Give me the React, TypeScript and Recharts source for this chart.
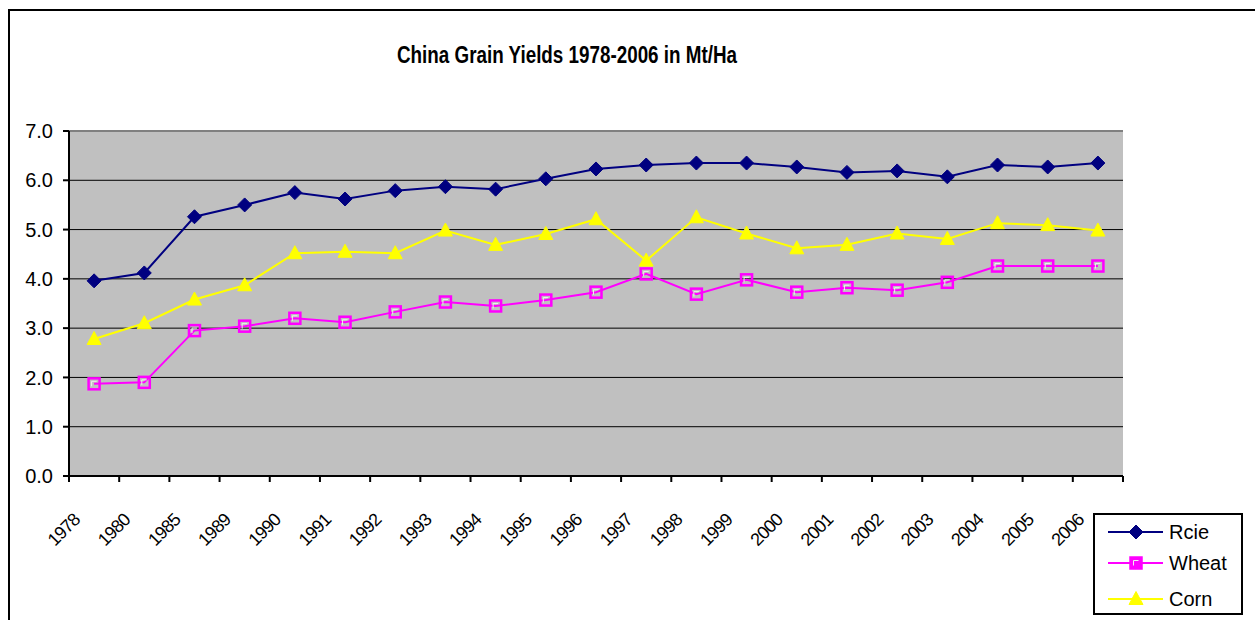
import React from "react";
import { LineChart, Line, XAxis, YAxis, CartesianGrid, ReferenceLine } from "recharts";

const FONT = "'Liberation Sans', Arial, sans-serif";

const YEARS = [
  "1978", "1980", "1985", "1989", "1990", "1991", "1992", "1993", "1994", "1995", "1996",
  "1997", "1998", "1999", "2000", "2001", "2002", "2003", "2004", "2005", "2006",
];
const RICE = [3.96, 4.12, 5.26, 5.5, 5.75, 5.62, 5.79, 5.87, 5.82, 6.03, 6.23, 6.31, 6.35, 6.35, 6.27, 6.16, 6.19, 6.07, 6.31, 6.27, 6.35];
const WHEAT = [1.87, 1.9, 2.95, 3.04, 3.2, 3.12, 3.33, 3.53, 3.45, 3.57, 3.73, 4.1, 3.69, 3.98, 3.73, 3.82, 3.77, 3.93, 4.26, 4.26, 4.26];
const CORN = [2.78, 3.1, 3.58, 3.87, 4.52, 4.55, 4.52, 4.98, 4.69, 4.91, 5.21, 4.37, 5.25, 4.92, 4.62, 4.69, 4.92, 4.81, 5.13, 5.09, 4.98];
const Y_TICKS = [0, 1, 2, 3, 4, 5, 6, 7];

const SERIES = [
  { key: "rice", name: "Rcie", color: "#000080", marker: "diamond" },
  { key: "wheat", name: "Wheat", color: "#FF00FF", marker: "square" },
  { key: "corn", name: "Corn", color: "#FFFF00", marker: "triangle" },
];

const data = YEARS.map((year, i) => ({ year, rice: RICE[i], wheat: WHEAT[i], corn: CORN[i] }));

const W = 1255;
const H = 620;
const MARGIN = { top: 131, right: 132, bottom: 0, left: 0 };
const Y_AXIS_W = 69;
const PLOT_W = W - MARGIN.right - Y_AXIS_W;
const HALF_BAND = PLOT_W / YEARS.length / 2;

function Marker({ type, cx, cy, color, legend }: { type: string; cx: number; cy: number; color: string; legend?: boolean }) {
  if (type === "diamond") {
    const r = 7;
    return <polygon points={`${cx},${cy - r} ${cx + r},${cy} ${cx},${cy + r} ${cx - r},${cy}`} fill={color} stroke={color} strokeWidth={1} />;
  }
  if (type === "square") {
    const s = 5.5;
    return (
      <g>
        <rect x={cx - s} y={cy - s} width={s * 2} height={s * 2} fill={legend ? color : "none"} stroke={color} strokeWidth={2.5} />
        <polyline points={`${cx - 2.5},${cy + 2.5} ${cx - 2.5},${cy - 2.5} ${cx + 2.5},${cy - 2.5}`} fill="none" stroke="#f0f0f0" strokeWidth={1} />
      </g>
    );
  }
  return <polygon points={`${cx},${cy - 7.5} ${cx + 7},${cy + 5.5} ${cx - 7},${cy + 5.5}`} fill={color} stroke={color} strokeWidth={1} />;
}

function makeDot(type: string, color: string) {
  return (p: any) => {
    if (p.cx == null || p.cy == null) return <g key={p.index} />;
    return (
      <g key={`${type}-${p.index}`}>
        <Marker type={type} cx={p.cx} cy={p.cy} color={color} />
      </g>
    );
  };
}

// category labels sit under band centres, tick marks on band edges
function YearTick(props: any) {
  const { x, y, payload, index } = props;
  const tx = x - 13;
  const ty = y + 45;
  return (
    <g>
      <line x1={x - HALF_BAND} x2={x - HALF_BAND} y1={y} y2={y + 6} stroke="#000" strokeWidth={2} />
      {index === YEARS.length - 1 && (
        <line x1={x + HALF_BAND} x2={x + HALF_BAND} y1={y} y2={y + 6} stroke="#000" strokeWidth={2} />
      )}
      <text
        x={tx}
        y={ty}
        transform={`rotate(-45 ${tx} ${ty})`}
        textAnchor="end"
        fontSize={18}
        letterSpacing={-0.8}
        fontFamily={FONT}
        fill="#000"
      >
        {payload.value}
      </text>
    </g>
  );
}

function LegendBox() {
  const rows = [17, 48, 84];
  return (
    <div
      style={{
        position: "absolute",
        left: 1093,
        top: 513,
        width: 146,
        height: 98,
        border: "2px solid #000",
        background: "#fff",
      }}
    >
      <svg width={146} height={98}>
        {SERIES.map((s, i) => (
          <g key={s.key}>
            <line x1={13} x2={68} y1={rows[i]} y2={rows[i]} stroke={s.color} strokeWidth={2} />
            <Marker type={s.marker} cx={41} cy={rows[i]} color={s.color} legend />
            <text x={74} y={rows[i]} dy="0.35em" fontSize={20} fontFamily={FONT} fill="#000">
              {s.name}
            </text>
          </g>
        ))}
      </svg>
    </div>
  );
}

export default function App() {
  return (
    <div style={{ position: "relative", width: W, height: H, overflow: "hidden", background: "#fff" }}>
      <style>{"body{margin:0}"}</style>
      <LineChart width={W} height={H} data={data} margin={MARGIN}>
        <CartesianGrid vertical={false} stroke="#000" strokeWidth={1} fill="#C0C0C0" fillOpacity={1} />
        <XAxis
          dataKey="year"
          scale="band"
          height={144}
          interval={0}
          axisLine={{ stroke: "#000", strokeWidth: 2 }}
          tickLine={false}
          tickSize={0}
          tickMargin={0}
          tick={(p: any) => <YearTick {...p} />}
        />
        <YAxis
          domain={[0, 7]}
          ticks={Y_TICKS}
          interval={0}
          width={Y_AXIS_W}
          tickFormatter={(v: number) => v.toFixed(1)}
          axisLine={{ stroke: "#000", strokeWidth: 2 }}
          tickLine={{ stroke: "#000", strokeWidth: 2 }}
          tickSize={6}
          tickMargin={10}
          tick={{ fill: "#000", fontSize: 20, fontFamily: FONT }}
        />
        <YAxis
          yAxisId="edge"
          orientation="right"
          domain={[0, 7]}
          width={0}
          tick={false}
          tickLine={false}
          axisLine={{ stroke: "#808080", strokeWidth: 2 }}
        />
        <ReferenceLine y={7} stroke="#808080" strokeWidth={2} />
        {SERIES.map((s) => (
          <Line
            key={s.key}
            type="linear"
            dataKey={s.key}
            name={s.name}
            stroke={s.color}
            strokeWidth={2}
            dot={makeDot(s.marker, s.color)}
            activeDot={false}
            isAnimationActive={false}
          />
        ))}
      </LineChart>
      <svg width={W} height={H} style={{ position: "absolute", left: 0, top: 0, pointerEvents: "none" }}>
        <text
          x={567}
          y={63}
          textAnchor="middle"
          fontSize={23}
          fontWeight="bold"
          fontFamily={FONT}
          textLength={340}
          lengthAdjust="spacingAndGlyphs"
          fill="#000"
        >
          China Grain Yields 1978-2006 in Mt/Ha
        </text>
      </svg>
      <div
        style={{
          position: "absolute",
          left: 8,
          top: 9,
          width: 1400,
          height: 800,
          border: "2px solid #000",
          pointerEvents: "none",
        }}
      />
      <LegendBox />
    </div>
  );
}
